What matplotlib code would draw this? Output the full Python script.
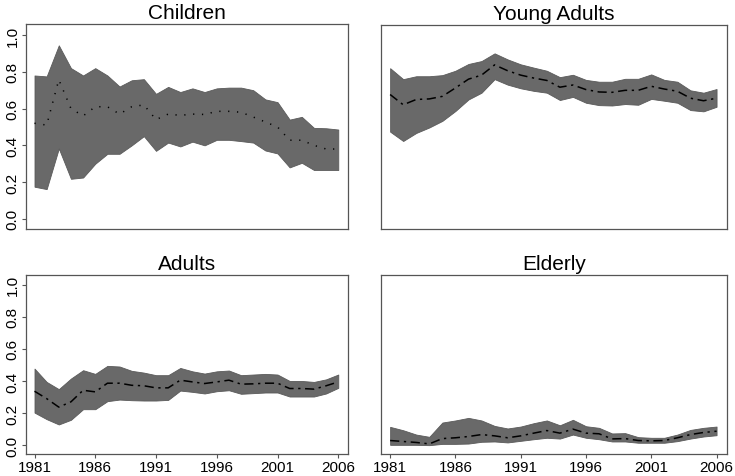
import numpy as np
import matplotlib
matplotlib.use('Agg')
import matplotlib.pyplot as plt

plt.rcParams['font.family'] = ['Liberation Sans', 'DejaVu Sans']

years = list(range(1981, 2007))

# Children
child_hi = [0.78, 0.775, 0.944, 0.82, 0.78, 0.82, 0.78, 0.72, 0.754, 0.76, 0.68, 0.718, 0.69,
            0.71, 0.69, 0.71, 0.714, 0.714, 0.70, 0.65, 0.635, 0.54, 0.555, 0.495, 0.493, 0.486]
child_lo = [0.175, 0.162, 0.383, 0.218, 0.225, 0.30, 0.354, 0.354, 0.40, 0.45, 0.37, 0.415, 0.394,
            0.42, 0.40, 0.43, 0.43, 0.423, 0.415, 0.372, 0.356, 0.28, 0.305, 0.266, 0.266, 0.266]
child_mid = [0.52, 0.51, 0.757, 0.60, 0.56, 0.61, 0.61, 0.57, 0.61, 0.62, 0.54, 0.57, 0.563,
             0.57, 0.568, 0.585, 0.585, 0.58, 0.554, 0.527, 0.50, 0.428, 0.428, 0.40, 0.38, 0.38]

# Young adults
young_hi = [0.824, 0.764, 0.78, 0.78, 0.786, 0.81, 0.847, 0.863, 0.905, 0.872, 0.845, 0.827, 0.81,
            0.775, 0.788, 0.76, 0.75, 0.75, 0.766, 0.766, 0.79, 0.76, 0.75, 0.703, 0.69, 0.71]
young_lo = [0.477, 0.426, 0.47, 0.50, 0.536, 0.59, 0.653, 0.69, 0.764, 0.734, 0.714, 0.70, 0.69,
            0.65, 0.667, 0.635, 0.622, 0.62, 0.628, 0.624, 0.656, 0.646, 0.635, 0.595, 0.588, 0.613]
young_mid = [0.68, 0.624, 0.653, 0.656, 0.67, 0.716, 0.764, 0.786, 0.842, 0.81, 0.786, 0.77, 0.757,
             0.72, 0.732, 0.707, 0.694, 0.692, 0.703, 0.703, 0.725, 0.71, 0.698, 0.66, 0.646, 0.66]

# Adults
adult_hi = [0.477, 0.394, 0.349, 0.415, 0.467, 0.444, 0.494, 0.49, 0.463, 0.452, 0.436, 0.436, 0.481,
            0.46, 0.446, 0.46, 0.465, 0.436, 0.44, 0.444, 0.44, 0.40, 0.40, 0.394, 0.41, 0.44]
adult_lo = [0.203, 0.162, 0.129, 0.158, 0.224, 0.224, 0.274, 0.284, 0.28, 0.278, 0.278, 0.282, 0.34,
            0.332, 0.322, 0.336, 0.342, 0.32, 0.324, 0.328, 0.328, 0.303, 0.303, 0.303, 0.322, 0.357]
adult_mid = [0.336, 0.29, 0.237, 0.27, 0.342, 0.332, 0.386, 0.386, 0.373, 0.37, 0.357, 0.357, 0.405,
             0.394, 0.384, 0.394, 0.405, 0.38, 0.382, 0.386, 0.386, 0.353, 0.353, 0.349, 0.37, 0.394]

# Elderly
old_hi = [0.114, 0.093, 0.066, 0.052, 0.141, 0.154, 0.17, 0.154, 0.12, 0.104, 0.116, 0.137, 0.154,
          0.124, 0.158, 0.118, 0.108, 0.073, 0.075, 0.05, 0.046, 0.046, 0.066, 0.095, 0.108, 0.116]
old_lo = [0.002, 0.002, 0.002, 0.0, 0.008, 0.008, 0.01, 0.021, 0.023, 0.017, 0.027, 0.037, 0.046,
          0.041, 0.066, 0.046, 0.037, 0.023, 0.023, 0.015, 0.015, 0.015, 0.025, 0.041, 0.054, 0.062]
old_mid = [0.029, 0.023, 0.017, 0.008, 0.041, 0.046, 0.054, 0.066, 0.058, 0.046, 0.058, 0.075, 0.091,
           0.075, 0.10, 0.075, 0.071, 0.039, 0.041, 0.029, 0.027, 0.029, 0.046, 0.066, 0.079, 0.087]

titles = ['Children', 'Young Adults', 'Adults', 'Elderly']
xticks = [1981, 1986, 1991, 1996, 2001, 2006]
yticks = [0.0, 0.2, 0.4, 0.6, 0.8, 1.0]

W, H = 735, 477
fig = plt.figure(figsize=(W / 100, H / 100), dpi=100)

# axes boxes in pixels: left, top, right, bottom
boxes = [(26, 25, 348, 230), (381, 26, 727, 230),
         (26, 276, 348, 455), (381, 276, 727, 455)]
panels = [(child_lo, child_hi, child_mid, (0, (0.8, 5))),
          (young_lo, young_hi, young_mid, (0, (6, 3, 1.5, 3))),
          (adult_lo, adult_hi, adult_mid, (0, (6, 3, 1.5, 3))),
          (old_lo, old_hi, old_mid, (0, (6, 3, 1.5, 3)))]

band = '#696969'
for i, (box, (lo, hi, mid, ls)) in enumerate(zip(boxes, panels)):
    l, t, r, b = box
    ax = fig.add_axes([l / W, 1 - b / H, (r - l) / W, (b - t) / H])
    ax.fill_between(years, lo, hi, color=band, linewidth=0.6, edgecolor='#5a5a5a')
    ax.plot(years, mid, color='black', linestyle=ls, linewidth=1.1)
    ax.set_xlim(1980.3, 2006.8)
    ax.set_ylim(-0.055, 1.06)
    ax.set_title(titles[i], fontsize=15, pad=4)
    for s in ax.spines.values():
        s.set_color('#555555')
        s.set_linewidth(0.9)
    ax.tick_params(colors='#555555', labelcolor='black', length=3, width=0.8,
                   labelsize=11, pad=1.5)
    if i % 2 == 0:
        ax.set_yticks(yticks)
        ax.set_yticklabels(['%.1f' % v for v in yticks], rotation=90, va='center')
    else:
        ax.set_yticks([])
    if i >= 2:
        ax.set_xticks(xticks)
        ax.set_xticklabels([str(v) for v in xticks])
    else:
        ax.set_xticks([])

fig.savefig('out.png', dpi=100)
